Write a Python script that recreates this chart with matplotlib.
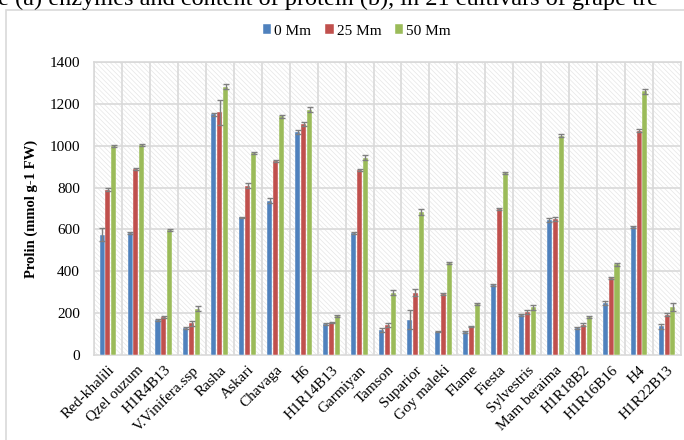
import numpy as np
import matplotlib
matplotlib.use("Agg")
from matplotlib import pyplot as plt
from matplotlib.patches import Rectangle

plt.rcParams['font.family'] = ['Liberation Serif', 'DejaVu Serif']
plt.rcParams['hatch.linewidth'] = 0.5

cultivars = ["Red-khalili", "Qzel ouzum", "H1R4B13", "V.Vinifera.ssp", "Rasha",
             "Askari", "Chavaga", "H6", "H1R14B13", "Garmiyan", "Tamson",
             "Suparior", "Goy maleki", "Flame", "Fiesta", "Sylvestris",
             "Mam beraima", "H1R18B2", "H1R16B16", "H4", "H1R22B13"]

mm0 = [575, 582, 168, 128, 1150, 657, 738, 1065, 148, 582, 120,
       168, 112, 112, 333, 190, 645, 128, 248, 612, 138]
mm25 = [790, 890, 180, 152, 1160, 808, 928, 1102, 155, 883, 143,
        298, 290, 136, 697, 205, 650, 145, 370, 1072, 192]
mm50 = [998, 1002, 598, 222, 1282, 965, 1140, 1172, 188, 942, 298,
        683, 440, 242, 870, 228, 1048, 180, 433, 1260, 230]

err0 = [30, 6, 5, 5, 8, 4, 10, 8, 5, 6, 10, 45, 4, 5, 4, 6, 8, 5, 8, 6, 12]
err25 = [6, 4, 5, 12, 60, 12, 6, 10, 4, 5, 8, 15, 4, 4, 4, 8, 10, 8, 5, 8, 8]
err50 = [4, 5, 4, 10, 12, 6, 6, 12, 5, 12, 12, 15, 4, 5, 6, 12, 6, 5, 6, 12, 18]

series = ["0 Mm", "25 Mm", "50 Mm"]
colors = ["#4F81BD", "#C0504D", "#9BBB59"]

fig = plt.figure(figsize=(6.84, 4.40), dpi=100)

# bit of caption from the page above the chart (cut off)
fig.text(-0.003, 1 - 4.5/440, "e (a) enzymes and content of protein (b), in 21 cultivars of grape tre",
         fontsize=17.5, va='baseline', ha='left')

# chart frame
fig.patches.append(Rectangle((6/684, -0.05), 1.1, 1 - 10/440 + 0.05, transform=fig.transFigure,
                             fill=False, edgecolor='#d9d9d9', linewidth=1.2))

ax = fig.add_axes([94/684, 85/440, 587/684, 293/440])

# hatched plot area
ax.add_patch(Rectangle((0, 0), 1, 1, transform=ax.transAxes, facecolor='white',
                       edgecolor='#e6e6e6', hatch='\\\\\\\\\\\\\\', linewidth=0, zorder=0))

x = np.arange(len(cultivars))
w = 0.18
step = 0.21
for i, (vals, errs) in enumerate(zip([mm0, mm25, mm50], [err0, err25, err50])):
    ax.bar(x + (i - 1) * step, vals, width=w, color=colors[i], label=series[i],
           edgecolor='white', linewidth=0.3, zorder=3,
           yerr=errs, error_kw=dict(ecolor='#7f7f7f', elinewidth=1, capsize=2.5, capthick=1, zorder=4))

ax.set_xlim(-0.5, len(cultivars) - 0.5)
ax.set_ylim(0, 1400)
ax.set_yticks(range(0, 1401, 200))
ax.set_xticks(x)
ax.set_xticklabels(cultivars, rotation=45, ha='right', rotation_mode='anchor', fontsize=11)
ax.tick_params(axis='both', length=0, labelsize=11)
ax.tick_params(axis='y', pad=10)
ax.tick_params(axis='x', pad=6)

# grid: horizontal at ticks, vertical between categories
for yv in range(200, 1401, 200):
    ax.axhline(yv, color='#d9d9d9', linewidth=1.2, zorder=1)
for xv in np.arange(-0.5, len(cultivars) + 0.5, 1):
    ax.axvline(xv, color='#d9d9d9', linewidth=1.2, zorder=1)
for s in ax.spines.values():
    s.set_color('#d9d9d9')
    s.set_linewidth(1.2)

ax.set_ylabel("Prolin (mmol g-1 FW)", fontsize=10.5, fontweight='bold', labelpad=8)

fig.legend(loc='center', bbox_to_anchor=(357/684, 1 - 31/440), ncol=3, frameon=False,
           fontsize=11, handlelength=0.55, handleheight=0.55, handletextpad=0.2,
           columnspacing=0.9)

fig.savefig("out.png", dpi=100)
